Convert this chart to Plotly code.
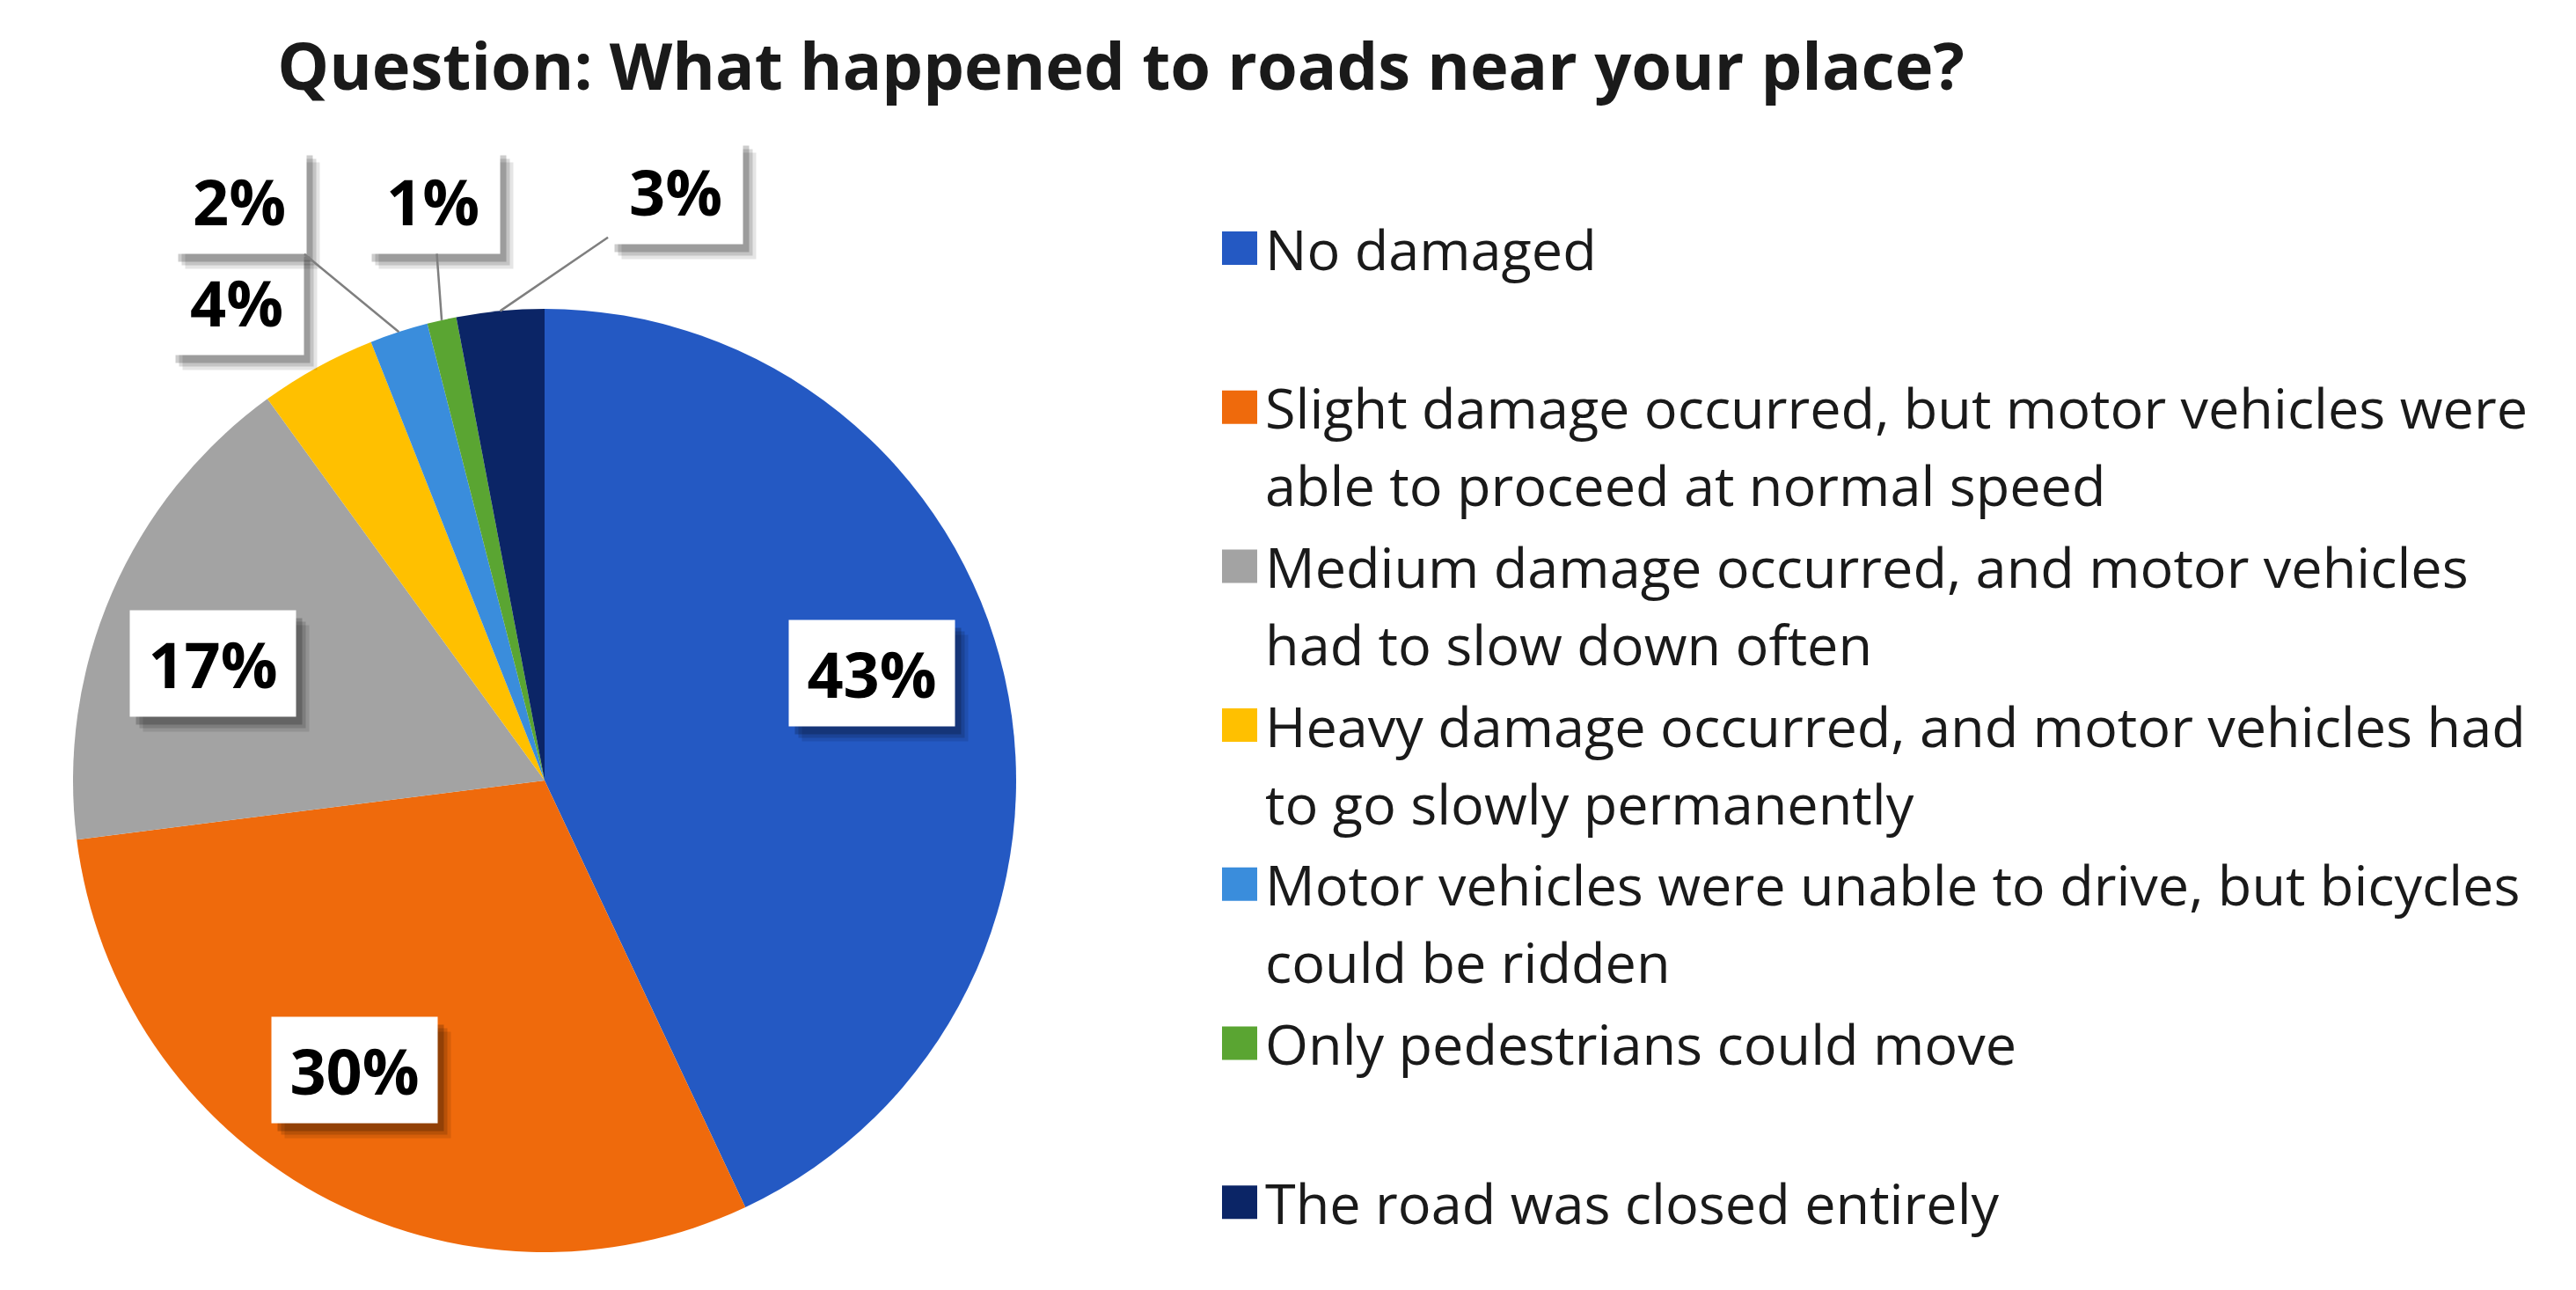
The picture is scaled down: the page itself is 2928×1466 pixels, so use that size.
import math
import plotly.graph_objects as go

# ---------------- data ----------------
categories = [
    "No damaged",
    "Slight damage occurred, but motor vehicles were<br>able to proceed at normal speed",
    "Medium damage occurred, and motor vehicles<br>had to slow down often",
    "Heavy damage occurred, and motor vehicles had<br>to go slowly permanently",
    "Motor vehicles were unable to drive, but bicycles<br>could be ridden",
    "Only pedestrians could move",
    "The road was closed entirely",
]
percent = [43, 30, 17, 4, 2, 1, 3]
colors = ["#2459C3", "#EF6A0C", "#A3A3A3", "#FFC000", "#3A8DDC", "#5AA532", "#0B2566"]

title_text = "Question: What happened to roads near your place?"

# ---------------- layout constants (page pixels) ----------------
PAGE_MARGIN = 8                      # default <body> margin of the html page
W, H = 2928 - 2 * PAGE_MARGIN, 1466 - 2 * PAGE_MARGIN
PIE_CX, PIE_CY, PIE_R = 619, 887, 536
FONT = "Open Sans"
LABEL_SIZE = 72
LEG_FONT = 63
LEG_SQ_X, LEG_TXT_X = 1409, 1436      # legend square centre x, text left x
LEG_Y0, LEG_STEP, LEG_LINE = 282, 180.7, 88
LEG_SQ_W, LEG_SQ_H = 40, 38

# label placement: inside -> (radius fraction, angle nudge deg); outside -> pixel offset of box from slice edge
label_style = [
    ("in", 0.73, -5.5), ("in", 0.735, 4.5), ("in", 0.745, -4.0),
    ("out", (-92, -74), False),
    ("out", (-181, -149), True),
    ("out", (-10, -136), True),
    ("out", (199, -136), True),
]


def px(xp):
    return (xp - PAGE_MARGIN) / W


def py(yp):
    return 1 - (yp - PAGE_MARGIN) / H


fig = go.Figure()
fig.add_trace(go.Pie(
    labels=[c.replace("<br>", " ") for c in categories],
    values=percent,
    marker=dict(colors=colors, line=dict(width=0)),
    sort=False,
    direction="clockwise",
    rotation=0,
    textinfo="none",
    hoverinfo="label+percent",
    showlegend=False,
    domain=dict(
        x=[px(PIE_CX - PIE_R), px(PIE_CX + PIE_R)],
        y=[py(PIE_CY + PIE_R), py(PIE_CY - PIE_R)],
    ),
))

annotations = []
shapes = []

# ---------------- data labels ----------------
total = sum(percent)
cum = 0.0
shadow_layers = [(15, -17, 0.10), (11, -13, 0.14), (7, -9, 0.20)]
for v, style in zip(percent, label_style):
    mid = (cum + v / 2) / total * 2 * math.pi
    cum += v
    pct = round(100 * v / total)
    txt = f"<b>{pct}%</b>"
    wbox = 188 if pct >= 10 else 152
    common = dict(
        xref="paper", yref="paper",
        xanchor="center", yanchor="middle",
        font=dict(family=FONT, size=LABEL_SIZE, color="#000000"),
        width=wbox, height=120, borderpad=0, align="center", valign="middle",
    )
    if style[0] == "in":
        ang = mid + math.radians(style[2])
        rr = style[1] * PIE_R
        pos = dict(x=px(PIE_CX + rr * math.sin(ang)), y=py(PIE_CY - rr * math.cos(ang)),
                   showarrow=False)
        front = dict(bgcolor="#FFFFFF")
    else:
        ax, ay = style[1]
        pos = dict(x=px(PIE_CX + PIE_R * math.sin(mid)), y=py(PIE_CY - PIE_R * math.cos(mid)),
                   showarrow=True, ax=ax, ay=ay, arrowhead=0, standoff=0)
        front = dict(bgcolor="#FFFFFF", arrowwidth=2.5,
                     arrowcolor="#7F7F7F" if style[2] else "rgba(0,0,0,0)")
    # soft drop shadow (empty boxes)
    for dx, dy, a in shadow_layers:
        sh = dict(common, **pos)
        sh.update(text=" ", bgcolor=f"rgba(0,0,0,{a})", xshift=dx, yshift=dy)
        if pos["showarrow"]:
            sh["arrowcolor"] = "rgba(0,0,0,0)"
        annotations.append(sh)
    annotations.append(dict(common, text=txt, **pos, **front))

# ---------------- legend (squares + wrapped text) ----------------
for k, (cat, col) in enumerate(zip(categories, colors)):
    yc = LEG_Y0 + k * LEG_STEP
    shapes.append(dict(
        type="rect", xref="paper", yref="paper",
        x0=px(LEG_SQ_X - LEG_SQ_W / 2), x1=px(LEG_SQ_X + LEG_SQ_W / 2),
        y0=py(yc + LEG_SQ_H / 2), y1=py(yc - LEG_SQ_H / 2),
        fillcolor=col, line=dict(width=0),
    ))
    for i, line in enumerate(cat.split("<br>")):
        annotations.append(dict(
            text=line, xref="paper", yref="paper",
            x=px(LEG_TXT_X), y=py(yc + i * LEG_LINE),
            xanchor="left", yanchor="middle", showarrow=False,
            font=dict(family=FONT, size=LEG_FONT, color="#1a1a1a"),
        ))

fig.update_layout(
    width=W, height=H,
    margin=dict(l=0, r=0, t=0, b=0, autoexpand=False),
    paper_bgcolor="#FFFFFF",
    plot_bgcolor="#FFFFFF",
    title=dict(
        text=f"<b>{title_text}</b>",
        x=px(1274), xanchor="center", xref="paper",
        y=py(76), yanchor="middle", yref="container",
        font=dict(family=FONT, size=74, color="#1a1a1a"),
    ),
    annotations=annotations,
    shapes=shapes,
    showlegend=False,
)

fig.write_html("out.html")
